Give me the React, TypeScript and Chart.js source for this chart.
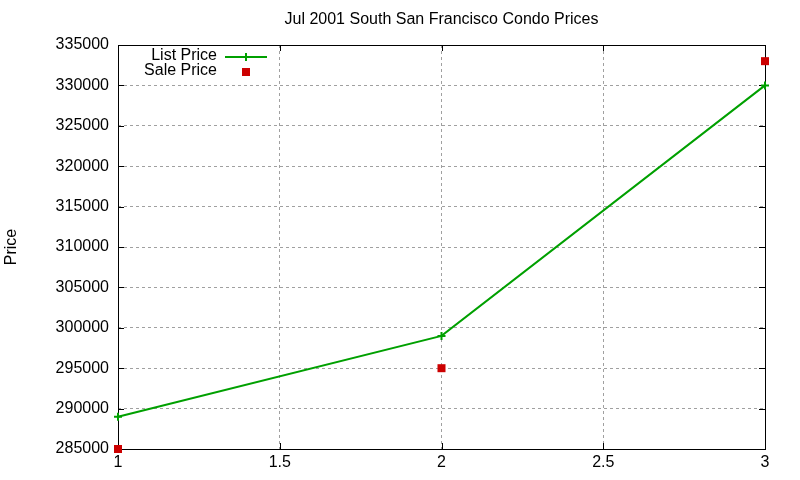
import React, { useEffect, useRef } from "react";
import { Chart, registerables } from "chart.js";

Chart.register(...registerables);

const xValues = [1, 2, 3];
const listPrice = [289000, 299000, 330000];
const salePrice = [285000, 295000, 333000];
const yTicks = { min: 285000, max: 335000, step: 5000 };
const xTicks = { min: 1, max: 3, step: 0.5 };
const titleText = "Jul 2001 South San Francisco Condo Prices";
const yAxisTitle = "Price";
const seriesNames = ["List Price", "Sale Price"];

const GREEN = "#00a000";
const RED = "#cc0000";
const FAMILY = "'Liberation Sans', Arial, sans-serif";
const FONT = "16px " + FAMILY;

const framePlugin = {
  id: "gnuplotFrame",
  beforeDatasetsDraw(chart: any) {
    const { ctx, chartArea: a, scales } = chart;
    ctx.save();
    ctx.strokeStyle = "#000";
    ctx.lineWidth = 1;
    ctx.setLineDash([]);
    const tl = 6;
    ctx.beginPath();
    scales.y.ticks.forEach((t: any) => {
      const y = Math.round(scales.y.getPixelForValue(t.value)) + 0.5;
      ctx.moveTo(a.left, y);
      ctx.lineTo(a.left + tl, y);
      ctx.moveTo(a.right, y);
      ctx.lineTo(a.right - tl, y);
    });
    scales.x.ticks.forEach((t: any) => {
      const x = Math.round(scales.x.getPixelForValue(t.value)) + 0.5;
      ctx.moveTo(x, a.bottom);
      ctx.lineTo(x, a.bottom - tl);
      ctx.moveTo(x, a.top);
      ctx.lineTo(x, a.top + tl);
    });
    ctx.stroke();
    ctx.strokeRect(Math.round(a.left) + 0.5, Math.round(a.top) + 0.5, Math.round(a.right - a.left), Math.round(a.bottom - a.top));
    ctx.restore();
  },
  afterDraw(chart: any) {
    const { ctx, chartArea: a } = chart;
    ctx.save();
    ctx.fillStyle = "#000";
    ctx.font = FONT;
    ctx.textAlign = "center";
    ctx.textBaseline = "middle";
    ctx.fillText(titleText, (a.left + a.right) / 2, 20);
    ctx.save();
    ctx.translate(12, (a.top + a.bottom) / 2);
    ctx.rotate(-Math.PI / 2);
    ctx.fillText(yAxisTitle, 0, 0);
    ctx.restore();
    // legend
    const lx = a.left + 99;
    const y1 = a.top + 11;
    const y2 = a.top + 26;
    ctx.textAlign = "right";
    ctx.fillText(seriesNames[0], lx, y1);
    ctx.fillText(seriesNames[1], lx, y2);
    ctx.strokeStyle = GREEN;
    ctx.lineWidth = 2;
    ctx.beginPath();
    ctx.moveTo(lx + 8, y1 + 1);
    ctx.lineTo(lx + 50, y1 + 1);
    ctx.moveTo(lx + 29, y1 - 3);
    ctx.lineTo(lx + 29, y1 + 5);
    ctx.stroke();
    ctx.fillStyle = RED;
    ctx.fillRect(lx + 25, y2 - 3, 8, 8);
    ctx.restore();
  },
};

export default function App() {
  const ref = useRef<HTMLCanvasElement>(null);
  useEffect(() => {
    if (!ref.current) return;
    const chart = new Chart(ref.current, {
      type: "line",
      data: {
        datasets: [
          {
            label: seriesNames[0],
            data: xValues.map((x, i) => ({ x, y: listPrice[i] })),
            borderColor: GREEN,
            backgroundColor: GREEN,
            borderWidth: 2,
            pointStyle: "cross",
            pointRadius: 4,
            pointBorderWidth: 2,
            pointBorderColor: GREEN,
            tension: 0,
            clip: false as any,
          },
          {
            label: seriesNames[1],
            data: xValues.map((x, i) => ({ x, y: salePrice[i] })),
            showLine: false,
            borderColor: RED,
            backgroundColor: RED,
            pointStyle: "rect",
            pointRadius: 5.66,
            pointBorderWidth: 0,
            clip: false as any,
          },
        ],
      },
      options: {
        animation: false,
        responsive: false,
        devicePixelRatio: 1,
        layout: { padding: { top: 45, right: 35, bottom: 0, left: 0 } },
        plugins: {
          legend: { display: false },
          title: { display: false },
          tooltip: { enabled: false },
        },
        scales: {
          x: {
            type: "linear",
            min: xTicks.min,
            max: xTicks.max,
            afterFit: (s: any) => {
              s.height = 31;
            },
            ticks: {
              stepSize: xTicks.step,
              color: "#000",
              font: { family: FAMILY, size: 16 },
              padding: 4,
              maxRotation: 0,
              callback: (v: any) => String(v),
            },
            grid: {
              color: "#a0a0a0",
              drawTicks: false,
              tickLength: 0,
            },
            border: { display: false, dash: [3, 3] },
          },
          y: {
            type: "linear",
            min: yTicks.min,
            max: yTicks.max,
            afterFit: (s: any) => {
              s.width = 118;
            },
            ticks: {
              stepSize: yTicks.step,
              color: "#000",
              font: { family: FAMILY, size: 16 },
              padding: 9,
              callback: (v: any) => String(v),
            },
            grid: {
              color: "#a0a0a0",
              drawTicks: false,
              tickLength: 0,
            },
            border: { display: false, dash: [3, 3] },
          },
        },
      },
      plugins: [framePlugin],
    });
    return () => chart.destroy();
  }, []);
  return (
    <div style={{ position: "absolute", left: 0, top: 0, width: 800, height: 480, background: "#fff" }}>
      <canvas ref={ref} width={800} height={480} style={{ width: 800, height: 480 }} />
    </div>
  );
}
